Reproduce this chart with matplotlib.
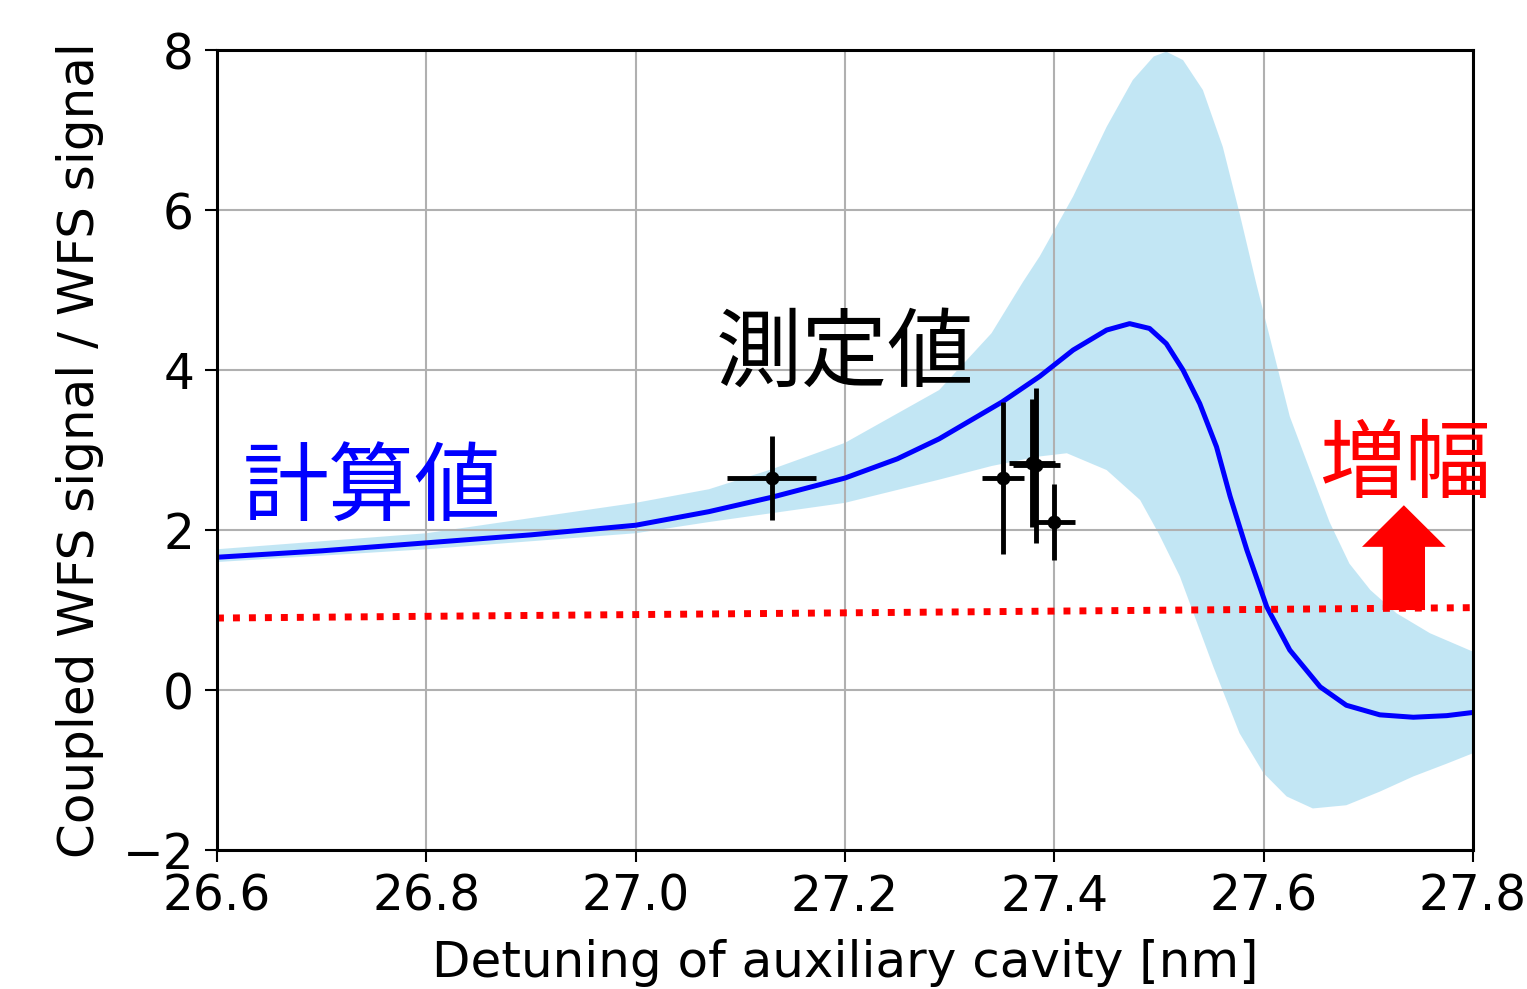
import matplotlib
matplotlib.use("Agg")
import matplotlib.pyplot as plt

# calculated curve
x_calc = [26.60, 26.70, 26.80, 26.90, 27.00, 27.07, 27.13, 27.20, 27.25, 27.29,
          27.35, 27.386, 27.418, 27.45, 27.472, 27.491, 27.507, 27.523, 27.539,
          27.555, 27.568, 27.584, 27.603, 27.625, 27.654, 27.679, 27.711, 27.743,
          27.775, 27.80]
y_calc = [1.66, 1.74, 1.84, 1.94, 2.06, 2.23, 2.41, 2.65, 2.89, 3.14,
          3.60, 3.92, 4.25, 4.50, 4.58, 4.52, 4.33, 4.00, 3.58,
          3.04, 2.42, 1.75, 1.04, 0.50, 0.04, -0.19, -0.31, -0.34,
          -0.32, -0.28]

# uncertainty band (upper / lower edges)
x_hi = [26.60, 26.80, 27.00, 27.07, 27.13, 27.20, 27.29, 27.34, 27.37, 27.386, 27.418,
        27.45, 27.475, 27.495, 27.507, 27.523, 27.542, 27.561, 27.577, 27.593,
        27.609, 27.625, 27.663, 27.682, 27.702, 27.727, 27.759, 27.80]
band_hi = [1.76, 1.96, 2.34, 2.51, 2.76, 3.09, 3.75, 4.46, 5.10, 5.42, 6.17,
           7.04, 7.625, 7.92, 7.98, 7.875, 7.50, 6.79, 5.96, 5.08,
           4.25, 3.42, 2.10, 1.58, 1.25, 0.96, 0.71, 0.48]
x_lo = [26.60, 26.80, 27.00, 27.07, 27.20, 27.29, 27.34, 27.37, 27.386, 27.412,
        27.45, 27.482, 27.50, 27.52, 27.552, 27.577, 27.60, 27.622, 27.647,
        27.679, 27.711, 27.743, 27.775, 27.80]
band_lo = [1.60, 1.76, 1.96, 2.10, 2.34, 2.63, 2.80, 2.88, 2.92, 2.96,
           2.75, 2.375, 1.95, 1.42, 0.29, -0.54, -1.04, -1.33, -1.48,
           -1.44, -1.27, -1.08, -0.92, -0.79]

# measurements
x_meas = [27.13, 27.351, 27.379, 27.383, 27.40]
y_meas = [2.65, 2.65, 2.84, 2.81, 2.10]
xerr_meas = [0.0425, 0.02, 0.022, 0.022, 0.02]
yerr_meas = [0.53, 0.95, 0.80, 0.97, 0.48]

# amplification threshold line
x_thr = [26.6, 27.8]
y_thr = [0.90, 1.03]

fig = plt.figure(figsize=(15.27, 9.89), dpi=100)
ax = fig.add_axes([0.1421, 0.1405, 0.8225, 0.8089])

# band polygon: upper edge left->right, lower edge right->left
poly_x = x_hi + x_lo[::-1]
poly_y = band_hi + band_lo[::-1]
ax.fill(poly_x, poly_y, color='skyblue', alpha=0.5, lw=0, zorder=1)
ax.plot(x_calc, y_calc, color='blue', lw=3.6)
ax.plot(x_thr, y_thr, color='red', lw=5, linestyle=(0, (1, 1.3)))
ax.errorbar(x_meas, y_meas, xerr=xerr_meas, yerr=yerr_meas, fmt='o', color='black',
            ms=9, elinewidth=3.5, capsize=0, zorder=5)

ax.arrow(27.734, 1.0, 0, 1.31, width=0.0404, head_width=0.08, head_length=0.52,
         length_includes_head=True, color='red', lw=0, zorder=6)

cjk = ['Noto Sans CJK JP', 'DejaVu Sans']
ax.text(26.748, 2.49, '計算値', color='blue', fontsize=62, family=cjk, ha='center', va='center')
ax.text(27.2, 4.18, '測定値', color='black', fontsize=62, family=cjk, ha='center', va='center')
ax.text(27.735, 2.79, '増幅', color='red', fontsize=62, family=cjk, ha='center', va='center')

ax.set_xlim(26.6, 27.8)
ax.set_ylim(-2, 8)
ax.set_xticks([26.6, 26.8, 27.0, 27.2, 27.4, 27.6, 27.8])
ax.set_yticks([-2, 0, 2, 4, 6, 8])
ax.grid(True, color='#b0b0b0', lw=1.5)
ax.tick_params(labelsize=35, length=8.5, width=1.5, pad=8)
for s in ax.spines.values():
    s.set_linewidth(2.2)
ax.set_xlabel('Detuning of auxiliary cavity [nm]', fontsize=36, labelpad=13)
ax.set_ylabel('Coupled WFS signal / WFS signal', fontsize=36, labelpad=13)

fig.savefig('out.png', dpi=100)
